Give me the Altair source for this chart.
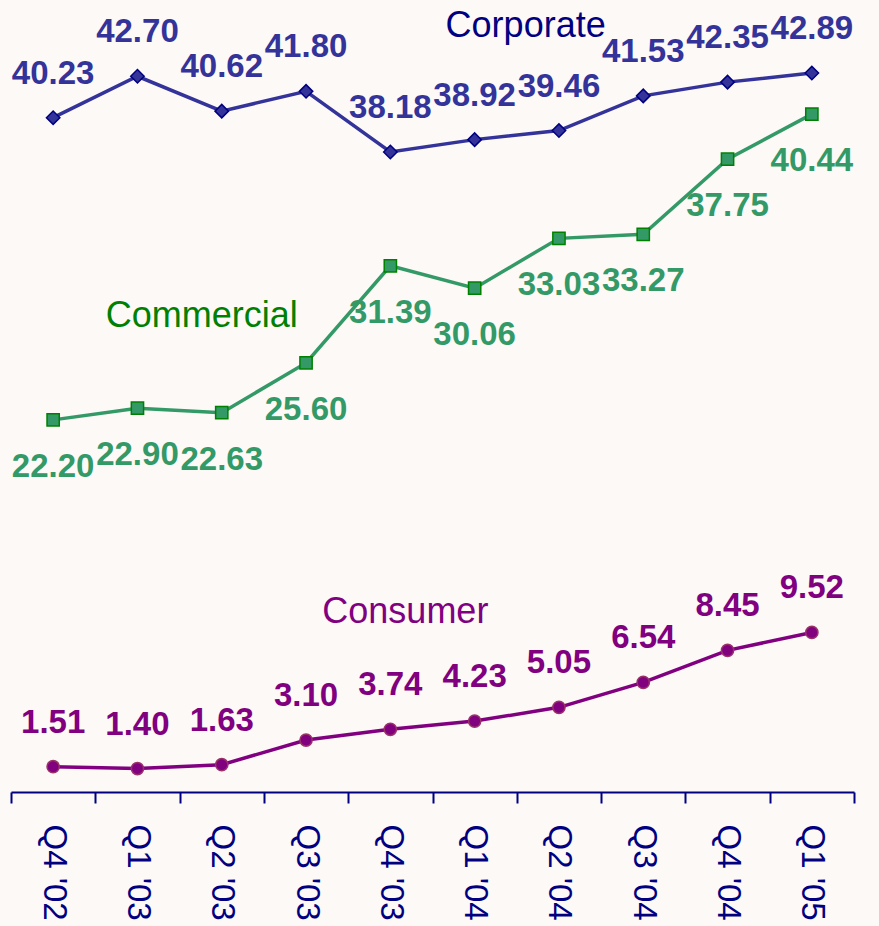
import altair as alt
import pandas as pd

quarters = ["Q4 '02", "Q1 '03", "Q2 '03", "Q3 '03", "Q4 '03",
            "Q1 '04", "Q2 '04", "Q3 '04", "Q4 '04", "Q1 '05"]
corporate = [40.23, 42.70, 40.62, 41.80, 38.18, 38.92, 39.46, 41.53, 42.35, 42.89]
commercial = [22.20, 22.90, 22.63, 25.60, 31.39, 30.06, 33.03, 33.27, 37.75, 40.44]
consumer = [1.51, 1.40, 1.63, 3.10, 3.74, 4.23, 5.05, 6.54, 8.45, 9.52]

series_names = ["Corporate", "Commercial", "Consumer"]
name_quarters = ["Q1 '04", "Q2 '03", "Q4 '03"]
name_values = [45.04, 27.74, 10.08]

FONT = "Liberation Sans"
BG = "#FCF9F6"

x_enc = alt.X("quarter:N", sort=quarters,
              scale=alt.Scale(paddingInner=0, paddingOuter=0),
              axis=alt.Axis(title=None, labelAngle=90, labelFontSize=33,
                            labelFont=FONT, labelColor="#000080",
                            domainColor="#000080", domainWidth=2,
                            tickColor="#000080", tickWidth=2, tickSize=11,
                            tickBand="extent", labelPadding=21, grid=False))
y_scale = alt.Scale(domain=[0, 47.25], nice=False, zero=True)


def series_layers(values, line_color, marker_stroke, shape, size, label_dy):
    df = pd.DataFrame({"quarter": quarters, "value": values})
    base = alt.Chart(df).encode(
        x=x_enc,
        y=alt.Y("value:Q", scale=y_scale, axis=None),
    )
    line = base.mark_line(color=line_color, strokeWidth=3.5)
    pts = base.mark_point(shape=shape, filled=True, size=size, fill=line_color,
                          stroke=marker_stroke, strokeWidth=1.5, opacity=1)
    txt = base.mark_text(font=FONT, fontSize=33, fontWeight="bold",
                         color=line_color, baseline="middle", dy=label_dy).encode(
        text=alt.Text("value:Q", format=".2f"))
    return [line, pts, txt]


layers = []
layers += series_layers(corporate, "#333399", "#000080", "diamond", 180, -44)
layers += series_layers(commercial, "#339966", "#008000", "square", 150, 47)
layers += series_layers(consumer, "#800080", "#993366", "circle", 150, -44)

name_colors = ["#000080", "#008000", "#800080"]
name_dx = [51, -20, 15]
for nm, q, v, c, dx in zip(series_names, name_quarters, name_values, name_colors, name_dx):
    ndf = pd.DataFrame({"quarter": [q], "value": [v], "name": [nm]})
    layers.append(
        alt.Chart(ndf).mark_text(font=FONT, fontSize=36, color=c,
                                 baseline="alphabetic", align="center", dx=dx).encode(
            x=x_enc,
            y=alt.Y("value:Q", scale=y_scale, axis=None),
            text="name:N",
        )
    )

chart = alt.layer(*layers).properties(
    width=843, height=792,
    background=BG,
    autosize=alt.AutoSizeParams(type="none"),
    padding={"left": 11, "top": 0, "right": 25, "bottom": 134},
).configure_view(stroke=None)

chart.save("out.html", embed_options={"renderer": "svg", "actions": False})
